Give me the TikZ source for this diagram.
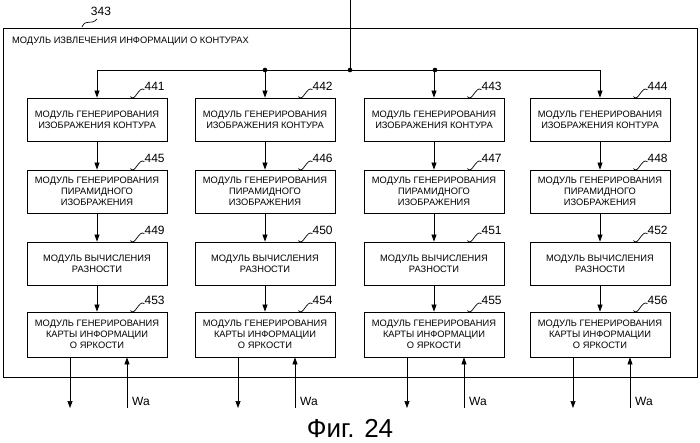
\documentclass[tikz,border=0pt]{standalone}
\usepackage{fontspec}
\setmainfont{Liberation Sans}
\usetikzlibrary{arrows.meta}
\begin{document}
\begin{tikzpicture}[x=1pt,y=-1pt,font=\fontsize{9.3}{11}\selectfont,
  blk/.style={draw,line width=0.8pt,minimum width=140pt,minimum height=43pt,align=center,inner sep=1pt},
  arr/.style={-{Triangle[length=7pt,width=5pt]},line width=0.7pt},
  ln/.style={line width=0.7pt},
  num/.style={font=\fontsize{12}{13}\selectfont,inner sep=0pt}]
\useasboundingbox (0,0) rectangle (700,443);
\draw[line width=0.8pt] (3,28) rectangle (697,377);
\node[num] (n343) at (101,11) {343};
\draw[ln] (82,27) .. controls (86,18) and (91,26) .. (97,19);
\node[anchor=west,inner sep=0pt] (title) at (12,41) {МОДУЛЬ ИЗВЛЕЧЕНИЯ ИНФОРМАЦИИ О КОНТУРАХ};
\coordinate (top) at (350,0);
\coordinate (j) at (350,70);
\draw[ln] (top) -- (j);
\coordinate (bl) at (97,70);
\coordinate (br) at (600,70);
\draw[ln] (bl) -- (br);
\fill (265,70) circle (2.3pt) (350,70) circle (2.3pt) (435,70) circle (2.3pt);
\foreach \c/\x/\a/\b/\cc/\d in {1/97/441/445/449/453, 2/265/442/446/450/454, 3/434/443/447/451/455, 4/600/444/448/452/456}{
  \node[blk] (a\c) at (\x,119.5) {МОДУЛЬ ГЕНЕРИРОВАНИЯ\\ИЗОБРАЖЕНИЯ КОНТУРА};
  \node[blk] (b\c) at (\x,191.5) {МОДУЛЬ ГЕНЕРИРОВАНИЯ\\ПИРАМИДНОГО\\ИЗОБРАЖЕНИЯ};
  \node[blk] (c\c) at (\x,263.5) {МОДУЛЬ ВЫЧИСЛЕНИЯ\\РАЗНОСТИ};
  \node[blk,minimum height=45pt] (d\c) at (\x,334.5) {МОДУЛЬ ГЕНЕРИРОВАНИЯ\\КАРТЫ ИНФОРМАЦИИ\\О ЯРКОСТИ};
  \coordinate (t\c) at (\x,70);
  \draw[arr] (t\c) -- (a\c.north);
  \draw[arr] (a\c) -- (b\c);
  \draw[arr] (b\c) -- (c\c);
  \draw[arr] (c\c) -- (d\c);
  \foreach \r/\n in {a/\a,b/\b,c/\cc,d/\d}{
    \draw[ln] ([xshift=-37pt,yshift=1pt]\r\c.north east) .. controls +(5,6) and +(-6,-4) .. ([xshift=-23pt,yshift=8pt]\r\c.north east);
    \node[num,anchor=west] at ([xshift=-23pt,yshift=11pt]\r\c.north east) {\n};
  }
  \coordinate (o\c) at (\x-27,408);
  \draw[arr] (d\c.south -| o\c) -- (o\c);
  \coordinate (w\c) at (\x+30,408);
  \draw[arr] (w\c) -- (d\c.south -| w\c);
  \node[anchor=west,inner sep=0pt,font=\fontsize{12}{13}\selectfont] at (\x+35,401) {Wa};
}
\node[font=\fontsize{26}{28}\selectfont] (cap) at (350,428) {Фиг. 24};
\end{tikzpicture}
\end{document}
